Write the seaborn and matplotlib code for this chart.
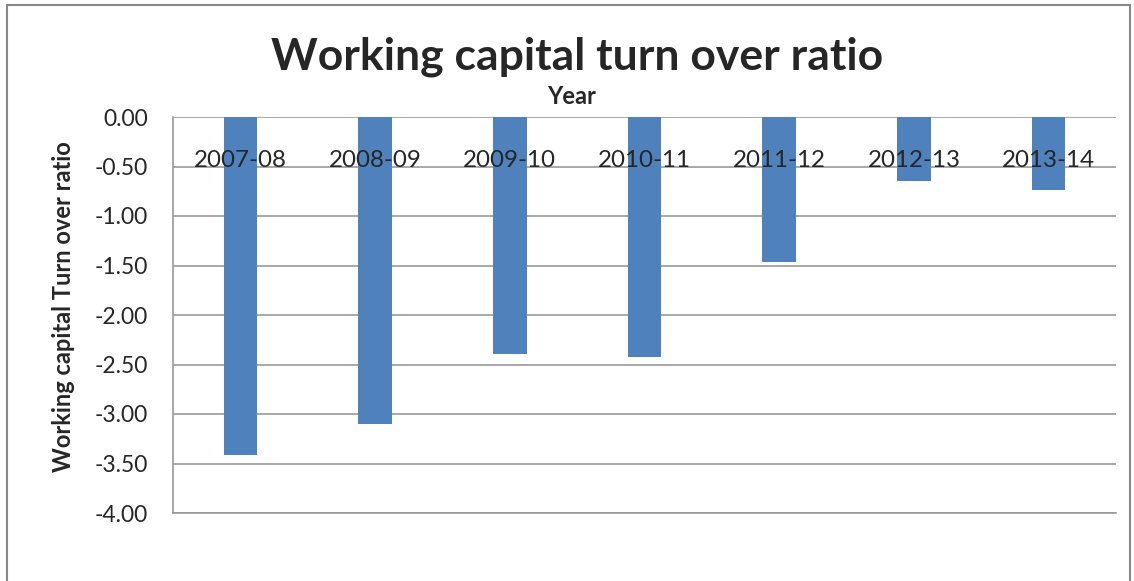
import matplotlib
matplotlib.use("Agg")
import matplotlib.pyplot as plt
import seaborn as sns
import pandas as pd
from matplotlib.patches import Rectangle

years = ["2007-08", "2008-09", "2009-10", "2010-11", "2011-12", "2012-13", "2013-14"]
ratios = [-3.41, -3.10, -2.39, -2.42, -1.46, -0.65, -0.74]
y_ticks = [0.0, -0.5, -1.0, -1.5, -2.0, -2.5, -3.0, -3.5, -4.0]

sns.set_theme(style="white")
plt.rcParams['font.family'] = ['Lato', 'DejaVu Sans']

df = pd.DataFrame({"Year": years, "Ratio": ratios})

fig = plt.figure(figsize=(11.34, 5.81), dpi=100)
ax = fig.add_axes([173/1134, (581-513)/581, (1116-173)/1134, (513-117)/581])

sns.barplot(data=df, x="Year", y="Ratio", color="#4F81BD", width=0.25,
            saturation=1, ax=ax, edgecolor="none")

ax.set_ylim(-4.0, 0.0)
ax.set_yticks(y_ticks)
ax.set_yticklabels([f"{v:.2f}" for v in y_ticks], fontsize=16.5)
ax.yaxis.grid(True, color="#9a9a9a", linewidth=1.2)
ax.set_axisbelow(True)
ax.xaxis.set_zorder(5)
for s in ["top", "right"]:
    ax.spines[s].set_visible(False)
for s in ["left", "bottom"]:
    ax.spines[s].set_color("#9a9a9a")
    ax.spines[s].set_linewidth(1.2)
ax.tick_params(axis="y", length=0, pad=18)

ax.xaxis.tick_top()
ax.tick_params(axis="x", length=0, pad=-39, labelsize=17.4)
ax.set_xlabel("")
ax.set_ylabel("")

fig.text(64/1134, 1 - 307/581, "Working capital Turn over ratio", fontsize=17,
         fontweight="bold", rotation=90, ha="center", va="center")
fig.text(572/1134, 1 - 97/581, "Year", fontsize=17, fontweight="bold",
         ha="center", va="center")
fig.text(577/1134, 1 - 57/581, "Working capital turn over ratio", fontsize=32,
         fontweight="bold", ha="center", va="center")

fig.patches.append(Rectangle((7/1134, -0.05), (1130-7)/1134, 1.05 - 5/581,
                             transform=fig.transFigure, fill=False,
                             edgecolor="#888888", linewidth=1.5))

fig.savefig("out.png", dpi=100)
